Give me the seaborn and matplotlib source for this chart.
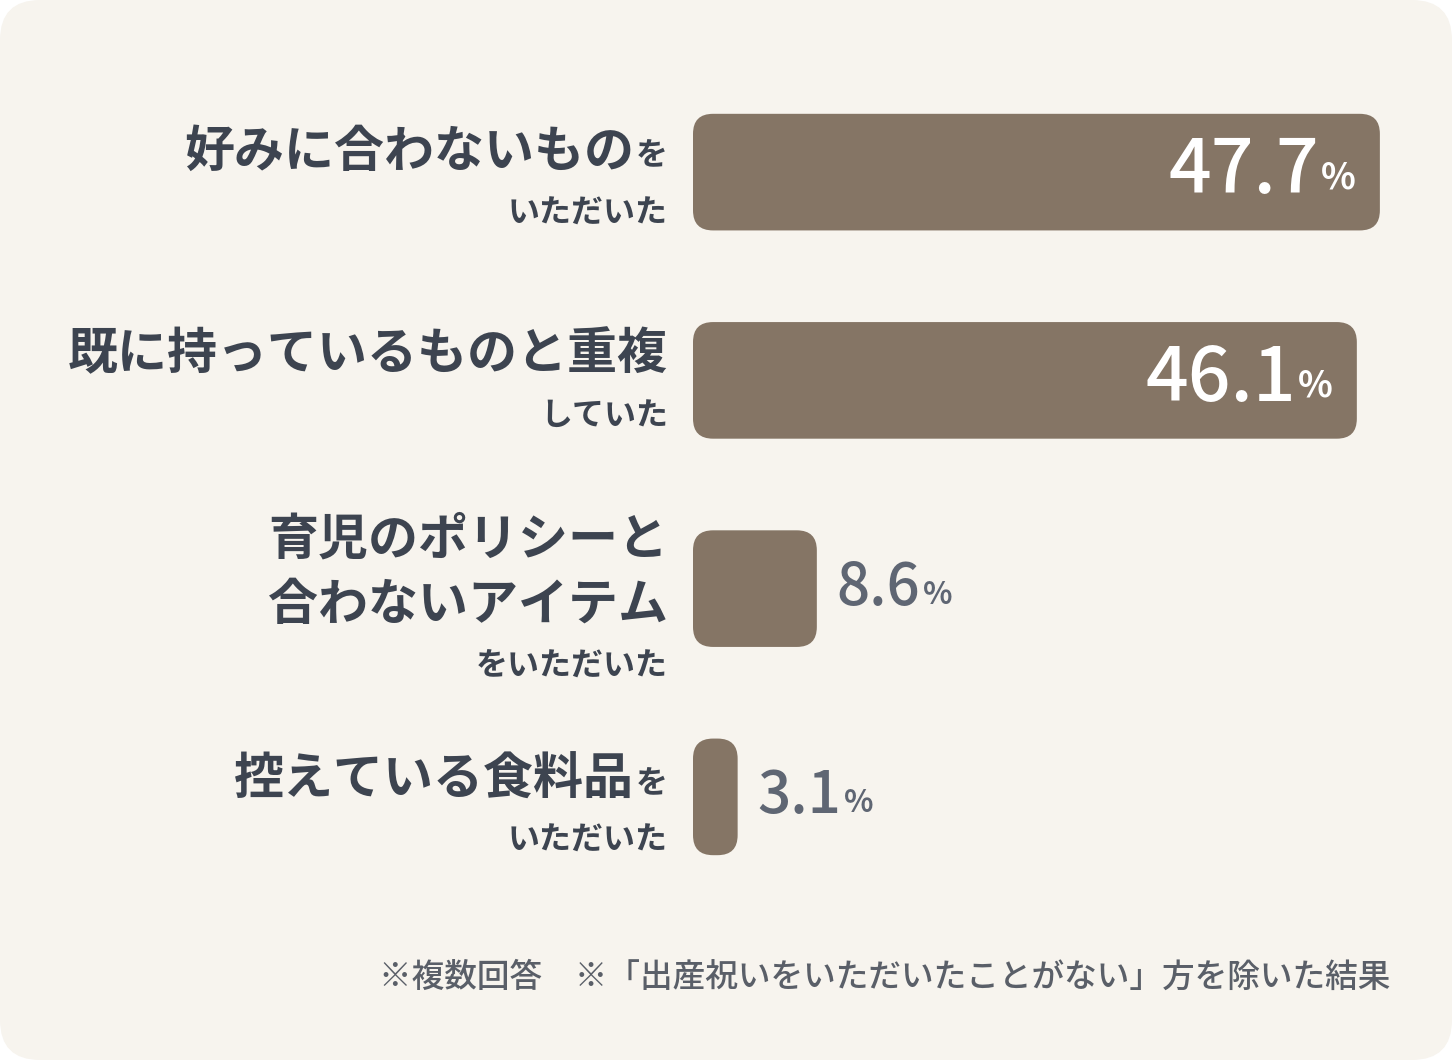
import matplotlib
matplotlib.use("Agg")
import matplotlib.pyplot as plt
import seaborn as sns
import pandas as pd
from matplotlib.patches import FancyBboxPatch
from matplotlib.transforms import IdentityTransform

categories = ["好みに合わないものをいただいた", "既に持っているものと重複していた",
              "育児のポリシーと合わないアイテムをいただいた", "控えている食料品をいただいた"]
values = [47.7, 46.1, 8.6, 3.1]
value_labels = ["47.7", "46.1", "8.6", "3.1"]
footer = "※複数回答　※「出産祝いをいただいたことがない」方を除いた結果"

W, H = 1452, 1060
sns.set_theme(style="white")
plt.rcParams['font.family'] = ['Noto Sans CJK JP', 'DejaVu Sans']
fig = plt.figure(figsize=(W/100, H/100), dpi=100, facecolor="white")
ident = IdentityTransform()
fig.patches.append(FancyBboxPatch((0, 0), W, H, boxstyle="round,pad=0,rounding_size=40",
                                  transform=ident, facecolor="#f7f4ee", edgecolor="none", zorder=-10))

BAR = "#857565"
LAB = "#3d4450"
VAL = "#5f6673"

ax = fig.add_axes([693/W, (1060-901)/H, (W-693)/W, (901-68)/H])
ax.patch.set_alpha(0)
df = pd.DataFrame({"cat": categories, "val": values})
sns.barplot(data=df, x="val", y="cat", color=BAR, width=0.56, ax=ax, saturation=1)
ax.set_xlim(0, (W-693)/14.4)
ax.set_ylim(3.5, -0.5)
ax.axis("off")
fig.canvas.draw()
renderer = fig.canvas.get_renderer()

for i, p in enumerate(list(ax.patches)):
    bb = p.get_window_extent(renderer)
    p.set_visible(False)
    w = max(bb.width, 44)
    fig.patches.append(FancyBboxPatch((bb.x0, bb.y0), w, bb.height,
                       boxstyle="round,pad=0,rounding_size=20", transform=ident,
                       facecolor=BAR, edgecolor="none"))
    yc = (bb.y0 + bb.y1) / 2
    if w > 200:
        pt = fig.text(bb.x0 + w - 24, yc - 6, "%", transform=ident, ha="right", va="center",
                      fontsize=26, fontweight="bold", color="white")
        pe = pt.get_window_extent(renderer)
        fig.text(pe.x0 - 2, yc, value_labels[i], transform=ident, ha="right", va="center",
                 fontsize=54, fontweight="medium", color="white")
    else:
        nt = fig.text(bb.x0 + w + 20, yc, value_labels[i], transform=ident, ha="left", va="center",
                      fontsize=42, fontweight="medium", color=VAL)
        ne = nt.get_window_extent(renderer)
        fig.text(ne.x1 + 2, yc - 6, "%", transform=ident, ha="left", va="center",
                 fontsize=22, fontweight="bold", color=VAL)

RX = 668
def line(y, big, small=None):
    yd = H - y
    x = RX
    if small:
        t = fig.text(x, yd - 4, small, transform=ident, ha="right", va="center",
                     fontsize=23, fontweight="bold", color=LAB)
        x = t.get_window_extent(renderer).x0 - 2
    if big:
        fig.text(x, yd, big, transform=ident, ha="right", va="center",
                 fontsize=36, fontweight="bold", color=LAB)

line(152, "好みに合わないもの", "を")
line(210, None, "いただいた")
line(355, "既に持っているものと重複")
line(412, None, "していた")
line(540, "育児のポリシーと")
line(605, "合わないアイテム")
line(663, None, "をいただいた")
line(780, "控えている食料品", "を")
line(837, None, "いただいた")

fig.text(1390, H - 977, footer, transform=ident, ha="right", va="center",
         fontsize=23.5, fontweight="medium", color="#5a5f68")

fig.savefig("out.png", dpi=100, facecolor="white")
